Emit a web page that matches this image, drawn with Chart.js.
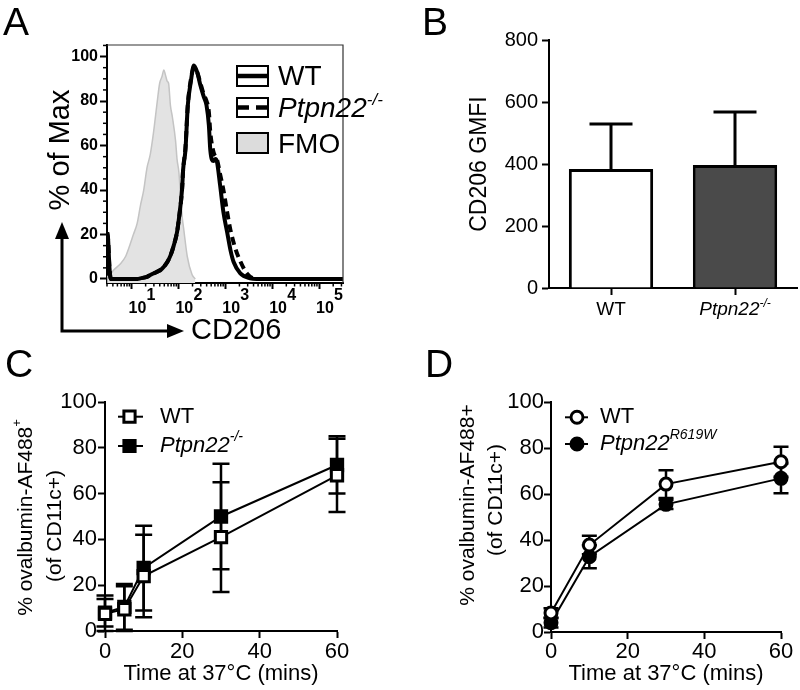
<!DOCTYPE html>
<html><head><meta charset="utf-8">
<script src="https://cdn.jsdelivr.net/npm/chart.js@4.4.1/dist/chart.umd.min.js"></script>
<style>
html,body{margin:0;padding:0;background:#fff;}
#wrap{position:relative;width:800px;height:690px;overflow:hidden;background:#fff;}
canvas{position:absolute;}
</style></head><body>
<div id="wrap">
<canvas id="cA" width="400" height="345" style="left:0;top:0"></canvas>
<canvas id="cB" width="400" height="345" style="left:400px;top:0"></canvas>
<canvas id="cC" width="400" height="350" style="left:0;top:340px"></canvas>
<canvas id="cD" width="400" height="350" style="left:400px;top:340px"></canvas>
</div>
<script>
const FONT = '"Liberation Sans", Arial, Helvetica, sans-serif';

// ---------- Panel A: CD206 histogram (x = log10 intensity, y = % of Max)
const histSeries = ['WT', 'Ptpn22', 'FMO'];
const histDecades = [1, 2, 3, 4, 5];
const histYTicks = [0, 20, 40, 60, 80, 100];
const fmoLogX = [0.48, 0.55, 0.62, 0.77, 0.87, 0.96, 1.04, 1.12, 1.19, 1.26, 1.33, 1.40, 1.47, 1.55, 1.60, 1.65, 1.69, 1.72, 1.76, 1.79, 1.83, 1.87, 1.94, 1.97, 2.01, 2.04, 2.08, 2.11, 2.19, 2.29, 2.36];
const fmoPct  = [1, 2, 4, 7, 10, 15, 20, 25, 33, 40, 50, 56, 66, 80, 88, 91, 94, 92, 89, 88, 78, 73, 62, 54, 48, 39, 28, 23, 10, 2, 0];
const wtLogX = [0.48, 0.50, 0.53, 0.56, 1.13, 1.19, 1.33, 1.40, 1.55, 1.62, 1.69, 1.76, 1.83, 1.90, 1.97, 2.01, 2.08, 2.10, 2.15, 2.20, 2.26, 2.33, 2.40, 2.47, 2.54, 2.60, 2.65, 2.68, 2.75, 2.79, 2.82, 2.89, 2.96, 3.04, 3.11, 3.18, 3.32, 3.53, 3.67, 5.51];
const wtPct  = [21, 18, 5, 0, 0, 0.3, 1, 1.8, 3.3, 4, 5.5, 7.5, 10.5, 15, 21, 27, 41, 49, 58, 78, 88, 96, 93, 87, 82, 78, 69, 58, 53, 54, 53, 42, 30, 21, 13, 7.5, 2.5, 0.3, 0, 0];
const koLogX = [0.48, 0.50, 0.53, 0.56, 1.13, 1.19, 1.33, 1.40, 1.55, 1.62, 1.69, 1.76, 1.83, 1.90, 1.97, 2.01, 2.08, 2.10, 2.15, 2.20, 2.26, 2.33, 2.40, 2.47, 2.54, 2.60, 2.65, 2.68, 2.75, 2.82, 2.89, 2.96, 3.04, 3.11, 3.21, 3.32, 3.46, 3.60, 3.74, 5.51];
const koPct  = [21, 18, 5, 0, 0, 0.3, 1, 1.8, 3.3, 4.2, 5.5, 7.5, 10.5, 15, 21, 27, 41, 49, 59, 78, 89, 95, 93, 88, 83, 80, 75, 66, 57, 54, 47, 40, 30, 22, 14, 8, 2.5, 0.3, 0, 0];

// ---------- Panel B: CD206 GMFI
const gmfiGroups = ['WT', 'Ptpn22'];
const gmfiMean = [384, 397];
const gmfiErr = [145, 171];

// ---------- Panel C: uptake, WT vs Ptpn22-/-
const timeC = [0, 5, 10, 30, 60];
const cWT = [7.5, 9.5, 24, 41, 68];
const cWTerr = [8, 10, 18, 24, 16];
const cKO = [8, 10.5, 27.5, 50, 72.5];
const cKOerr = [6, 10, 18.5, 23, 12.5];

// ---------- Panel D: uptake, WT vs Ptpn22 R619W
const timeD = [0, 10, 30, 60];
const dWT = [8.3, 37.8, 64.3, 74];
const dWTerr = [2, 4, 6, 6.5];
const dKI = [4, 32.7, 55.5, 66.8];
const dKIerr = [2, 5, 2, 6.5];

Chart.defaults.font.family = FONT;
Chart.defaults.color = '#000';

function pts(xs, ys) { return xs.map((x, i) => ({x: x, y: ys[i]})); }
function fontStr(size, it, b) { return (it ? 'italic ' : '') + (b ? 'bold ' : '') + size + 'px ' + FONT; }
function drawRich(ctx, parts, x, y, size, align, baseline) {
  ctx.save();
  ctx.textBaseline = baseline || 'alphabetic';
  ctx.textAlign = 'left';
  ctx.fillStyle = '#000';
  let total = 0;
  const ws = parts.map(p => { ctx.font = fontStr(p.sup ? Math.round(size * 0.62) : size, p.it, p.b); const w = ctx.measureText(p.t).width; total += w; return w; });
  let cx = align === 'center' ? x - total / 2 : (align === 'right' ? x - total : x);
  parts.forEach((p, i) => {
    ctx.font = fontStr(p.sup ? Math.round(size * 0.62) : size, p.it, p.b);
    ctx.fillText(p.t, cx, p.sup ? y - size * 0.42 : y);
    cx += ws[i];
  });
  ctx.restore();
}
function drawRotated(ctx, parts, x, y, size) {
  ctx.save();
  ctx.translate(x, y);
  ctx.rotate(-Math.PI / 2);
  drawRich(ctx, parts, 0, 0, size, 'center', 'middle');
  ctx.restore();
}
function letter(ctx, t, x, y) {
  ctx.save(); ctx.font = fontStr(39); ctx.fillStyle = '#000'; ctx.textBaseline = 'alphabetic'; ctx.fillText(t, x, y); ctx.restore();
}
function line(ctx, x1, y1, x2, y2) { ctx.beginPath(); ctx.moveTo(x1, y1); ctx.lineTo(x2, y2); ctx.stroke(); }

const baseOpts = {
  responsive: false, animation: false, events: [], devicePixelRatio: 1,
  plugins: { legend: { display: false }, tooltip: { enabled: false } }
};
function axisGrid(len) {
  return { drawOnChartArea: false, drawTicks: true, tickLength: len, tickWidth: 2, tickColor: '#000', color: '#000' };
}
const axisBorder = { display: true, color: '#000', width: 2 };

// ================= Panel A =================
const panelA = {
  id: 'panelA',
  afterDraw(chart) {
    const ctx = chart.ctx, ca = chart.chartArea, x = chart.scales.x, y = chart.scales.y;
    ctx.save();
    ctx.strokeStyle = '#000'; ctx.lineWidth = 1.5;
    for (let n = 0; n <= 5; n++) for (let k = 2; k <= 9; k++) {
      const v = n + Math.log10(k);
      if (v < x.min || v > x.max) continue;
      const px = x.getPixelForValue(v);
      line(ctx, px, ca.bottom, px, ca.bottom + 3.5);
    }
    for (let v = 5; v <= y.max; v += 5) {
      if (v % 20 === 0) continue;
      const py = y.getPixelForValue(v);
      line(ctx, ca.left - 4, py, ca.left, py);
    }
    ctx.strokeStyle = '#333'; ctx.lineWidth = 1.2;
    ctx.beginPath(); ctx.moveTo(ca.left, ca.top); ctx.lineTo(ca.right, ca.top); ctx.lineTo(ca.right, ca.bottom); ctx.stroke();
    histDecades.forEach(d => {
      const px = x.getPixelForValue(d);
      drawRich(ctx, [{t: '10', b: true}], px - 3, 313, 16, 'left');
      drawRich(ctx, [{t: String(d), b: true}], px + 15, 300, 16, 'left');
    });
    // legend
    ctx.strokeStyle = '#000'; ctx.lineWidth = 2;
    ctx.strokeRect(237, 66, 31, 20);
    ctx.lineWidth = 4.5; line(ctx, 237, 76, 268, 76);
    ctx.lineWidth = 2; ctx.strokeRect(237, 98, 31, 19);
    ctx.lineWidth = 4.5; line(ctx, 237, 107.5, 249, 107.5); line(ctx, 256, 107.5, 268, 107.5);
    ctx.fillStyle = '#dcdcdc'; ctx.fillRect(237, 133, 31, 20);
    ctx.lineWidth = 2; ctx.strokeRect(237, 133, 31, 20);
    drawRich(ctx, [{t: histSeries[0]}], 278, 85, 28, 'left');
    drawRich(ctx, [{t: histSeries[1], it: true}, {t: '-/-', it: true, sup: true}], 278, 117, 28, 'left');
    drawRich(ctx, [{t: histSeries[2]}], 278, 153, 28, 'left');
    // arrows
    ctx.strokeStyle = '#000'; ctx.fillStyle = '#000'; ctx.lineWidth = 3;
    ctx.beginPath(); ctx.moveTo(62, 237); ctx.lineTo(62, 331); ctx.lineTo(169, 331); ctx.stroke();
    ctx.beginPath(); ctx.moveTo(62, 222); ctx.lineTo(55, 239); ctx.lineTo(69, 239); ctx.closePath(); ctx.fill();
    ctx.beginPath(); ctx.moveTo(184, 331); ctx.lineTo(167, 324); ctx.lineTo(167, 338); ctx.closePath(); ctx.fill();
    drawRich(ctx, [{t: 'CD206'}], 191, 339, 29, 'left');
    drawRotated(ctx, [{t: '% of Max'}], 61, 150, 29);
    letter(ctx, 'A', 3, 35);
    ctx.restore();
  }
};

new Chart(document.getElementById('cA'), {
  type: 'line',
  data: { datasets: [
    { label: histSeries[0], data: pts(wtLogX, wtPct), borderColor: '#000', borderWidth: 4, pointRadius: 0, fill: false, cubicInterpolationMode: 'monotone', borderJoinStyle: 'round', order: 1 },
    { label: histSeries[1], data: pts(koLogX, koPct), borderColor: '#000', borderWidth: 4, borderDash: [8, 5], pointRadius: 0, fill: false, cubicInterpolationMode: 'monotone', order: 2 },
    { label: histSeries[2], data: pts(fmoLogX, fmoPct), borderColor: '#c4c4c4', borderWidth: 1.5, backgroundColor: '#e3e3e3', fill: 'start', pointRadius: 0, cubicInterpolationMode: 'monotone', order: 3 }
  ]},
  options: Object.assign({}, baseOpts, {
    layout: { padding: { left: 0, top: 45, right: 57, bottom: 0 } },
    scales: {
      x: { type: 'linear', min: Math.log10(3), max: 5.51,
           afterBuildTicks: s => { s.ticks = histDecades.map(v => ({value: v})); },
           ticks: { display: false }, grid: axisGrid(6), border: axisBorder,
           afterFit: s => { s.height = 62; } },
      y: { type: 'linear', min: -1.8, max: 105.2,
           afterBuildTicks: s => { s.ticks = histYTicks.map(v => ({value: v})); },
           ticks: { font: { size: 16, weight: 'bold' }, color: '#000', padding: 2 },
           grid: axisGrid(7), border: axisBorder,
           afterFit: s => { s.width = 107; } }
    }
  }),
  plugins: [panelA]
});

// ================= Panel B =================
const panelB = {
  id: 'panelB',
  afterDatasetsDraw(chart) {
    const ctx = chart.ctx, y = chart.scales.y;
    const meta = chart.getDatasetMeta(0);
    ctx.save(); ctx.strokeStyle = '#000'; ctx.lineWidth = 3;
    meta.data.forEach((bar, i) => {
      const yTop = y.getPixelForValue(gmfiMean[i] + gmfiErr[i]);
      ctx.beginPath(); ctx.moveTo(bar.x, bar.y); ctx.lineTo(bar.x, yTop);
      ctx.moveTo(bar.x - 21.5, yTop); ctx.lineTo(bar.x + 21.5, yTop); ctx.stroke();
    });
    ctx.restore();
  },
  afterDraw(chart) {
    const ctx = chart.ctx, x = chart.scales.x;
    drawRich(ctx, [{t: gmfiGroups[0]}], x.getPixelForValue(0), 315, 19, 'center');
    drawRich(ctx, [{t: gmfiGroups[1], it: true}, {t: '-/-', it: true, sup: true}], x.getPixelForValue(1), 315, 19, 'center');
    letter(ctx, 'B', 22, 35);
  }
};

new Chart(document.getElementById('cB'), {
  type: 'bar',
  data: { labels: gmfiGroups, datasets: [{ data: gmfiMean, backgroundColor: ['#ffffff', '#4a4a4a'], borderColor: '#000', borderWidth: 3, barPercentage: 0.68, categoryPercentage: 1 }] },
  options: Object.assign({}, baseOpts, {
    layout: { padding: { left: 0, top: 40, right: 3, bottom: 0 } },
    scales: {
      x: { grid: Object.assign(axisGrid(7), { offset: false }), border: axisBorder, ticks: { display: false },
           afterFit: s => { s.height = 57; } },
      y: { min: 0, max: 800, ticks: { stepSize: 200, font: { size: 20 }, color: '#000', padding: 4 },
           grid: axisGrid(7), border: axisBorder,
           title: { display: true, text: 'CD206 GMFI', font: { size: 23 }, color: '#000', padding: { top: 66, bottom: 0 } },
           afterFit: s => { s.width = 149; } }
    }
  }),
  plugins: [panelB]
});

// ================= Panels C & D =================
function errPlugin(xs, series, cap, extra) {
  return {
    id: 'err' + Math.random().toString(36).slice(2),
    beforeDatasetsDraw(chart) {
      const ctx = chart.ctx, x = chart.scales.x, y = chart.scales.y;
      ctx.save(); ctx.strokeStyle = '#000'; ctx.lineWidth = 2.5;
      series.forEach(s => {
        xs.forEach((t, j) => {
          const px = x.getPixelForValue(t);
          const hi = y.getPixelForValue(s.v[j] + s.e[j]);
          const lo = y.getPixelForValue(Math.max(s.v[j] - s.e[j], 0));
          ctx.beginPath(); ctx.moveTo(px, lo); ctx.lineTo(px, hi);
          ctx.moveTo(px - cap, hi); ctx.lineTo(px + cap, hi);
          ctx.moveTo(px - cap, lo); ctx.lineTo(px + cap, lo); ctx.stroke();
        });
      });
      ctx.restore();
    },
    afterDraw(chart) { extra(chart.ctx); }
  };
}
function legendMarker(ctx, shape, cx, cy, filled, x1, x2) {
  ctx.save(); ctx.strokeStyle = '#000'; ctx.lineWidth = 2;
  line(ctx, x1, cy, x2, cy);
  ctx.lineWidth = 3; ctx.fillStyle = filled ? '#000' : '#fff';
  ctx.beginPath();
  if (shape === 'rect') ctx.rect(cx - 5.6, cy - 5.6, 11.2, 11.2); else ctx.arc(cx, cy, 6, 0, Math.PI * 2);
  ctx.fill(); ctx.stroke(); ctx.restore();
}
function lineChartOpts(xs, xMax, yAxisWidth, padRight, xTitlePad, xLabPad, yLabPad) {
  return Object.assign({}, baseOpts, {
    layout: { padding: { left: 0, top: 62, right: padRight, bottom: 0 } },
    scales: {
      x: { type: 'linear', min: 0, max: xMax, ticks: { stepSize: 20, font: { size: 22 }, color: '#000', padding: xLabPad },
           grid: axisGrid(7), border: axisBorder,
           title: { display: true, text: 'Time at 37\u00B0C (mins)', font: { size: 22 }, color: '#000', padding: { top: 0, bottom: xTitlePad } },
           afterFit: s => { s.height = xs; } },
      y: { type: 'linear', min: 0, max: 100, ticks: { stepSize: 20, font: { size: 22 }, color: '#000', padding: yLabPad },
           grid: axisGrid(7), border: axisBorder,
           afterFit: s => { s.width = yAxisWidth; } }
    }
  });
}
function ds(label, xs, ys, style, filled, radius) {
  return { label: label, data: pts(xs, ys), borderColor: '#000', borderWidth: 2, pointStyle: style, pointRadius: radius,
           pointBorderWidth: 3, pointBorderColor: '#000', pointBackgroundColor: filled ? '#000' : '#fff', fill: false, clip: false, tension: 0 };
}

new Chart(document.getElementById('cC'), {
  type: 'line',
  data: { datasets: [ ds('WT', timeC, cWT, 'rect', false, 8), ds('Ptpn22-/-', timeC, cKO, 'rect', true, 8) ] },
  options: lineChartOpts(59, 60, 105, 63, 3, 1, 1),
  plugins: [errPlugin(timeC, [{v: cKO, e: cKOerr}, {v: cWT, e: cWTerr}], 8.5, ctx => {
    legendMarker(ctx, 'rect', 129.5, 76.7, false, 118, 143);
    legendMarker(ctx, 'rect', 129.5, 106, true, 118, 143);
    drawRich(ctx, [{t: 'WT'}], 160, 76.7, 22, 'left', 'middle');
    drawRich(ctx, [{t: 'Ptpn22', it: true}, {t: '-/-', it: true, sup: true}], 160, 106, 22, 'left', 'middle');
    drawRotated(ctx, [{t: '% ovalbumin-AF488'}, {t: '+', sup: true}], 26, 177.5, 21);
    drawRotated(ctx, [{t: '(of CD11c+)'}], 55, 186, 21);
    letter(ctx, 'C', 5, 37);
  })]
});

new Chart(document.getElementById('cD'), {
  type: 'line',
  data: { datasets: [ ds('WT', timeD, dWT, 'circle', false, 6), ds('Ptpn22 R619W', timeD, dKI, 'circle', true, 6) ] },
  options: lineChartOpts(58, 60, 151, 19, 3, 0, 0),
  plugins: [errPlugin(timeD, [{v: dKI, e: dKIerr}, {v: dWT, e: dWTerr}], 7.5, ctx => {
    legendMarker(ctx, 'circle', 177, 77.3, false, 165, 188);
    legendMarker(ctx, 'circle', 177, 104, true, 165, 188);
    drawRich(ctx, [{t: 'WT'}], 200, 77.3, 22, 'left', 'middle');
    drawRich(ctx, [{t: 'Ptpn22', it: true}, {t: 'R619W', it: true, sup: true}], 200, 104, 22, 'left', 'middle');
    drawRotated(ctx, [{t: '% ovalbumin-AF488+'}], 68, 165, 21);
    drawRotated(ctx, [{t: '(of CD11c+)'}], 96, 160, 21);
    letter(ctx, 'D', 25, 37);
  })]
});
</script>
</body></html>
